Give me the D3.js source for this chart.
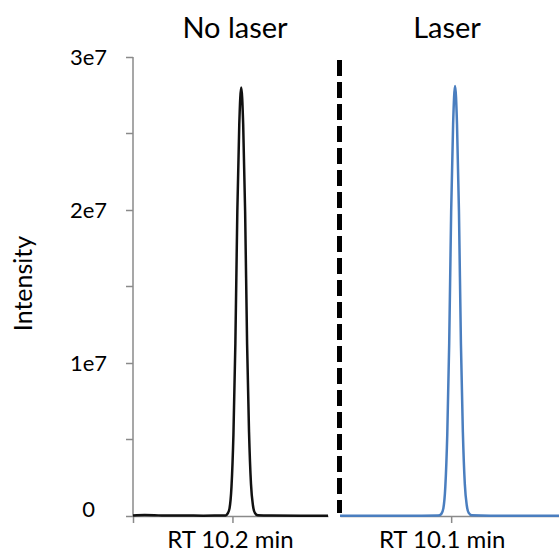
<!DOCTYPE html>
<html>
<head>
<meta charset="utf-8">
<script src="https://cdn.jsdelivr.net/npm/d3@7"></script>
<style>
  body { margin: 0; background: #fff; }
  text { font-family: Lato, "Open Sans", sans-serif; fill: #000; }
</style>
</head>
<body>
<div id="chart"></div>
<script>
// y axis
const yTicks = [0, 1e7, 2e7, 3e7];
const yTickLabels = ["0", "1e7", "2e7", "3e7"];
const yMinorTicks = [0.5e7, 1.5e7, 2.5e7];

// panels
const panelTitles = ["No laser", "Laser"];
const rtTicks = [10.2, 10.1];
const rtLabels = ["RT 10.2 min", "RT 10.1 min"];

// no laser trace (RT min, intensity)
const noLaserTime = [9.69, 9.75, 9.8, 9.85, 9.95, 10.05, 10.12, 10.165, 10.175, 10.185, 10.195, 10.205, 10.215, 10.225,
  10.235, 10.245, 10.255, 10.265, 10.275, 10.285, 10.295, 10.305, 10.315, 10.33, 10.4, 10.55, 10.69];
const noLaserIntensity = [0.004e7, 0.006e7, 0.005e7, 0.003e7, 0.003e7, 0.002e7, 0.003e7, 0.004e7, 0.015e7, 0.05e7, 0.19e7, 0.53e7, 1.13e7, 1.99e7,
  2.56e7, 2.8e7, 2.56e7, 1.99e7, 1.13e7, 0.55e7, 0.21e7, 0.07e7, 0.02e7, 0.005e7, 0.003e7, 0.002e7, 0.002e7];

// laser trace
const laserTime = [9.53, 9.7, 9.85, 9.95, 10.03, 10.04, 10.05, 10.06, 10.07, 10.08, 10.09, 10.1, 10.11,
  10.12, 10.13, 10.14, 10.15, 10.16, 10.17, 10.18, 10.19, 10.205, 10.3, 10.45, 10.653];
const laserIntensity = [0.002e7, 0.002e7, 0.002e7, 0.002e7, 0.003e7, 0.005e7, 0.015e7, 0.05e7, 0.19e7, 0.53e7, 1.13e7, 1.99e7, 2.56e7,
  2.81e7, 2.56e7, 1.99e7, 1.13e7, 0.55e7, 0.21e7, 0.07e7, 0.02e7, 0.005e7, 0.002e7, 0.002e7, 0.002e7];

const width = 559, height = 556;
const axisColor = "#8a8a8a";

const svg = d3.select("#chart").append("svg")
  .attr("width", width).attr("height", height);

const y = d3.scaleLinear().domain([0, 3e7]).range([516, 57]);

const panels = [
  { time: noLaserTime, value: noLaserIntensity, domain: [9.69, 10.69], range: [133, 328], color: "#111",
    titleX: 235, labelShift: -2 },
  { time: laserTime, value: laserIntensity, domain: [9.53, 10.653], range: [340, 559], color: "#4a7ebf",
    titleX: 447, labelShift: -9 }
];

// y axis
const yAxis = svg.append("g").attr("transform", "translate(133,0)");
yAxis.call(d3.axisLeft(y).tickValues(yTicks).tickSize(7).tickSizeOuter(0).tickFormat((d, i) => yTickLabels[i]));
yAxis.select(".domain").remove();
yAxis.selectAll(".tick line").attr("stroke", axisColor).attr("stroke-width", 1.5);
yAxis.selectAll(".tick text").attr("x", -44.5).attr("text-anchor", "middle")
  .attr("dy", d => d === 0 ? "0" : "0.32em")
  .style("font-size", "22px").style("font-family", "Lato, sans-serif");
yAxis.selectAll(".minor").data(yMinorTicks).enter().append("line")
  .attr("x1", -7).attr("x2", 0).attr("y1", d => y(d)).attr("y2", d => y(d))
  .attr("stroke", axisColor).attr("stroke-width", 1.5);
yAxis.append("line").attr("x1", 0).attr("x2", 0).attr("y1", y(3e7)).attr("y2", y(0))
  .attr("stroke", axisColor).attr("stroke-width", 1.5);

svg.append("text")
  .attr("transform", `translate(32,${(y(0) + y(3e7)) / 2 - 3}) rotate(-90)`)
  .attr("text-anchor", "middle")
  .style("font-size", "25px")
  .text("Intensity");

panels.forEach((p, i) => {
  const x = d3.scaleLinear().domain(p.domain).range(p.range);
  const ax = svg.append("g").attr("transform", `translate(0,${y(0)})`);
  ax.call(d3.axisBottom(x).tickValues([p.domain[0], rtTicks[i]]).tickSize(7).tickSizeOuter(0).tickFormat(""));
  ax.select(".domain").attr("stroke", axisColor).attr("stroke-width", 1.5);
  ax.selectAll(".tick line").attr("stroke", axisColor).attr("stroke-width", 1.5);
  if (i === 1) ax.selectAll(".tick").filter(d => d === p.domain[0]).remove();

  const line = d3.line()
    .x(d => x(d[0]))
    .y(d => y(d[1]))
    .curve(d3.curveMonotoneX);
  svg.append("path")
    .datum(p.time.map((t, k) => [t, p.value[k]]))
    .attr("d", line)
    .attr("fill", "none")
    .attr("stroke", p.color)
    .attr("stroke-width", 2.5)
    .attr("stroke-linejoin", "round");

  svg.append("text")
    .attr("x", p.titleX).attr("y", 38)
    .attr("text-anchor", "middle")
    .style("font-size", "29px")
    .text(panelTitles[i]);

  svg.append("text")
    .attr("x", x(rtTicks[i]) + p.labelShift).attr("y", 548)
    .attr("text-anchor", "middle")
    .style("font-size", "24px")
    .text(rtLabels[i]);
});

// divider
svg.append("line")
  .attr("x1", 339.5).attr("x2", 339.5).attr("y1", 60).attr("y2", 513)
  .attr("stroke", "#000").attr("stroke-width", 5)
  .attr("stroke-dasharray", "16,6");
</script>
</body>
</html>
